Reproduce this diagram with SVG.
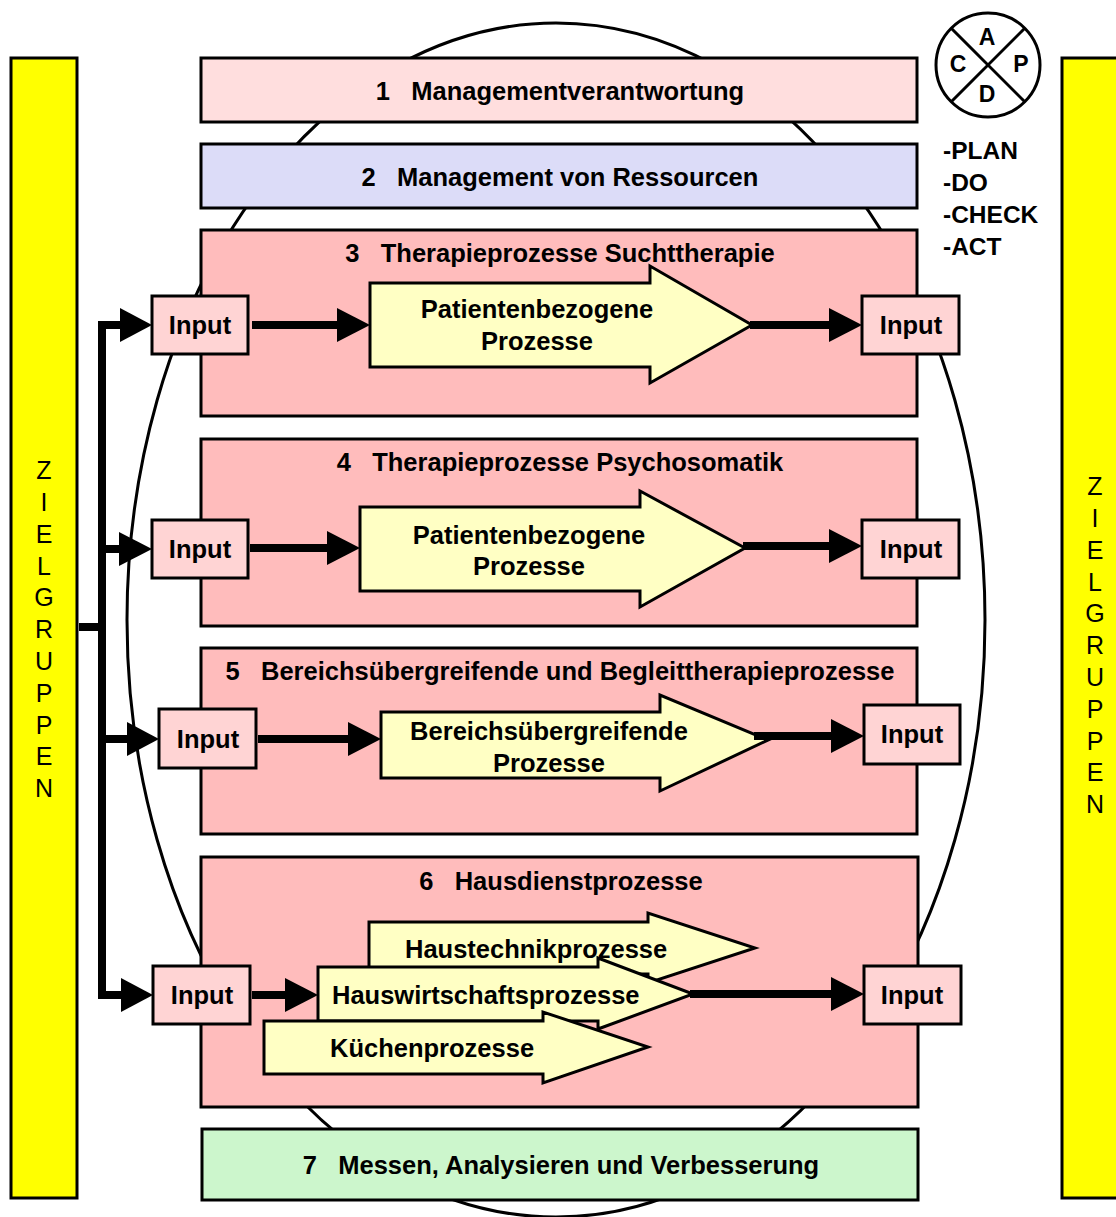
<svg xmlns="http://www.w3.org/2000/svg" width="1116" height="1217" viewBox="0 0 1116 1217">
<style>
.box{stroke:#000;stroke-width:3}
.b1{fill:#FFDEDE}
.b2{fill:#DCDCF8}
.bp{fill:#FFBCBC}
.b7{fill:#CCF6CC}
.inp{fill:#FFD4D4;stroke:#000;stroke-width:3}
.bar{fill:#FFFF00;stroke:#000;stroke-width:3}
.blk{fill:#FFFFC4;stroke:#000;stroke-width:3;stroke-linejoin:miter}
.t{font-family:"Liberation Sans",Arial,sans-serif;font-weight:bold;font-size:25.5px;fill:#000}
.tc{text-anchor:middle}
.v{font-family:"Liberation Sans",Arial,sans-serif;font-size:25px;fill:#000;text-anchor:middle}
.ln{stroke:#000;stroke-width:8;fill:none}
.hd{fill:#000}
</style>

<g id="ellipse">
<ellipse cx="556" cy="620" rx="429" ry="597" fill="none" stroke="#000" stroke-width="3"/>
</g>

<g id="zielgruppen-left">
<rect class="bar" x="11" y="58" width="66" height="1140"/>
<text class="v" x="44" y="479">Z</text>
<text class="v" x="44" y="511">I</text>
<text class="v" x="44" y="543">E</text>
<text class="v" x="44" y="575">L</text>
<text class="v" x="44" y="606">G</text>
<text class="v" x="44" y="638">R</text>
<text class="v" x="44" y="670">U</text>
<text class="v" x="44" y="702">P</text>
<text class="v" x="44" y="734">P</text>
<text class="v" x="44" y="765">E</text>
<text class="v" x="44" y="797">N</text>
</g>

<g id="zielgruppen-right">
<rect class="bar" x="1062" y="58" width="70" height="1140"/>
<text class="v" x="1095" y="495">Z</text>
<text class="v" x="1095" y="527">I</text>
<text class="v" x="1095" y="559">E</text>
<text class="v" x="1095" y="591">L</text>
<text class="v" x="1095" y="622">G</text>
<text class="v" x="1095" y="654">R</text>
<text class="v" x="1095" y="686">U</text>
<text class="v" x="1095" y="718">P</text>
<text class="v" x="1095" y="750">P</text>
<text class="v" x="1095" y="781">E</text>
<text class="v" x="1095" y="813">N</text>
</g>

<g id="pdca">
<circle cx="988" cy="65" r="52" fill="#fff" stroke="#000" stroke-width="3"/>
<line x1="951" y1="28" x2="1025" y2="102" stroke="#000" stroke-width="3"/>
<line x1="1025" y1="28" x2="951" y2="102" stroke="#000" stroke-width="3"/>
<text class="t tc" x="987" y="45" style="font-size:23px">A</text>
<text class="t tc" x="958" y="72" style="font-size:23px">C</text>
<text class="t tc" x="1021" y="72" style="font-size:23px">P</text>
<text class="t tc" x="987" y="102" style="font-size:23px">D</text>
<text class="t" x="943" y="159" style="font-size:24.5px">-PLAN</text>
<text class="t" x="943" y="191" style="font-size:24.5px">-DO</text>
<text class="t" x="943" y="223" style="font-size:24.5px">-CHECK</text>
<text class="t" x="943" y="255" style="font-size:24.5px">-ACT</text>
</g>

<g id="box1">
<rect class="box b1" x="201" y="58" width="716" height="64"/>
<text class="t tc" x="560" y="100" xml:space="preserve">1   Managementverantwortung</text>
</g>
<g id="box2">
<rect class="box b2" x="201" y="144" width="716" height="64"/>
<text class="t tc" x="560" y="186" xml:space="preserve">2   Management von Ressourcen</text>
</g>
<g id="box3">
<rect class="box bp" x="201" y="230" width="716" height="186"/>
<text class="t tc" x="560" y="262" xml:space="preserve">3   Therapieprozesse Suchttherapie</text>
</g>
<g id="box4">
<rect class="box bp" x="201" y="439" width="716" height="187"/>
<text class="t tc" x="560" y="471" xml:space="preserve">4   Therapieprozesse Psychosomatik</text>
</g>
<g id="box5">
<rect class="box bp" x="201" y="648" width="716" height="186"/>
<text class="t tc" x="560" y="680" xml:space="preserve">5   Bereichsübergreifende und Begleittherapieprozesse</text>
</g>
<g id="box6">
<rect class="box bp" x="201" y="857" width="717" height="250"/>
<text class="t tc" x="561" y="890" xml:space="preserve">6   Hausdienstprozesse</text>
</g>
<g id="box7">
<rect class="box b7" x="202" y="1129" width="716" height="71"/>
<text class="t tc" x="561" y="1174" xml:space="preserve">7   Messen, Analysieren und Verbesserung</text>
</g>

<g id="proc3">
<polygon class="blk" points="370,283 650,283 650,266 752,325 650,383 650,367 370,367"/>
<text class="t tc" x="537" y="318">Patientenbezogene</text>
<text class="t tc" x="537" y="350">Prozesse</text>
</g>
<g id="proc4">
<polygon class="blk" points="360,507 640,507 640,491 745,548 640,607 640,591 360,591"/>
<text class="t tc" x="529" y="544">Patientenbezogene</text>
<text class="t tc" x="529" y="575">Prozesse</text>
</g>
<g id="proc5">
<polygon class="blk" points="381,712 660,712 660,695 768,740 660,791 660,778 381,778"/>
<text class="t tc" x="549" y="740">Bereichsübergreifende</text>
<text class="t tc" x="549" y="772">Prozesse</text>
</g>
<g id="proc6a">
<polygon class="blk" points="369,922 648,922 648,913 755,948 648,983 648,974 369,974"/>
<text class="t" x="405" y="958">Haustechnikprozesse</text>
</g>
<g id="proc6b">
<polygon class="blk" points="318,967 598,967 598,958 693,994 598,1029 598,1021 318,1021"/>
<text class="t" x="332" y="1004">Hauswirtschaftsprozesse</text>
</g>
<g id="proc6c">
<polygon class="blk" points="264,1021 543,1021 543,1012 648,1047 543,1083 543,1074 264,1074"/>
<text class="t" x="330" y="1057">Küchenprozesse</text>
</g>

<g id="connectors">
<path class="ln" d="M79,627 H102 M121,325 H102 V995 H122 M102,549 H120 M102,739 H128"/>
<polygon class="hd" points="120,308 152,325 120,342"/>
<polygon class="hd" points="119,532 152,549 119,566"/>
<polygon class="hd" points="127,722 159,739 127,756"/>
<polygon class="hd" points="121,978 153,995 121,1012"/>

<line class="ln" x1="252" y1="325" x2="340" y2="325"/>
<polygon class="hd" points="337,308 370,325 337,342"/>
<line class="ln" x1="750" y1="325" x2="832" y2="325"/>
<polygon class="hd" points="829,308 862,325 829,342"/>

<line class="ln" x1="250" y1="548" x2="330" y2="548"/>
<polygon class="hd" points="327,531 360,548 327,565"/>
<line class="ln" x1="743" y1="546" x2="832" y2="546"/>
<polygon class="hd" points="829,529 862,546 829,563"/>

<line class="ln" x1="258" y1="739" x2="351" y2="739"/>
<polygon class="hd" points="348,722 381,739 348,756"/>
<line class="ln" x1="754" y1="736" x2="834" y2="736"/>
<polygon class="hd" points="831,719 864,736 831,753"/>

<line class="ln" x1="252" y1="995" x2="288" y2="995"/>
<polygon class="hd" points="285,978 318,995 285,1012"/>
<line class="ln" x1="690" y1="994" x2="834" y2="994"/>
<polygon class="hd" points="831,977 864,994 831,1011"/>
</g>

<g id="inputs">
<g id="in3l"><rect class="inp" x="152" y="296" width="96" height="58"/><text class="t tc" x="200" y="334">Input</text></g>
<g id="in3r"><rect class="inp" x="862" y="296" width="97" height="58"/><text class="t tc" x="911" y="334">Input</text></g>
<g id="in4l"><rect class="inp" x="152" y="520" width="96" height="58"/><text class="t tc" x="200" y="558">Input</text></g>
<g id="in4r"><rect class="inp" x="862" y="520" width="97" height="58"/><text class="t tc" x="911" y="558">Input</text></g>
<g id="in5l"><rect class="inp" x="159" y="709" width="97" height="59"/><text class="t tc" x="208" y="748">Input</text></g>
<g id="in5r"><rect class="inp" x="864" y="705" width="96" height="59"/><text class="t tc" x="912" y="743">Input</text></g>
<g id="in6l"><rect class="inp" x="153" y="966" width="97" height="58"/><text class="t tc" x="202" y="1004">Input</text></g>
<g id="in6r"><rect class="inp" x="864" y="966" width="97" height="58"/><text class="t tc" x="912" y="1004">Input</text></g>
</g>
</svg>
